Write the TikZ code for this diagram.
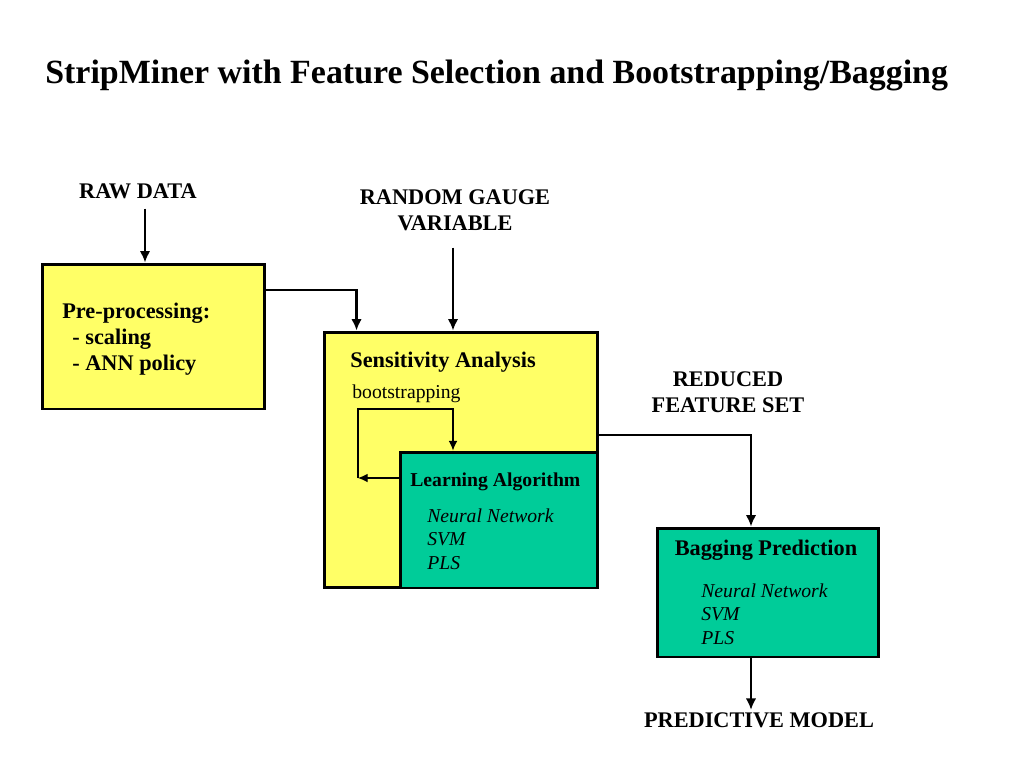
\documentclass[tikz,border=0pt]{standalone}
\usepackage{fontspec}
\setmainfont{Liberation Serif}
\usetikzlibrary{calc,arrows.meta}
\definecolor{boxyellow}{RGB}{255,255,102}
\definecolor{boxgreen}{RGB}{0,204,153}

\begin{document}
\begin{tikzpicture}[x=0.02cm,y=-0.02cm,
  box/.style={draw,line width=1.7pt,inner sep=0pt},
  lbl/.style={inner sep=0pt,font=\fontsize{12.7}{15.2}\selectfont\bfseries,align=center},
  arr/.style={line width=1.5pt,-{Latex[length=6.5pt,width=6pt]}},
  thinarr/.style={line width=0.7pt,-{Latex[length=5.5pt,width=5pt]}}]
\useasboundingbox (0,0) rectangle (1024,768);

\node[inner sep=0pt,anchor=base west,font=\fontsize{19.3}{23}\selectfont\bfseries] (title) at (45,83)
  {StripMiner with Feature Selection and Bootstrapping/Bagging};

% boxes
\node[box,fill=boxyellow,minimum width=4.46cm,minimum height=2.9cm] (pre) at (153.5,336.5) {};
\node[box,fill=boxyellow,minimum width=5.48cm,minimum height=5.12cm] (sens) at (461,460) {};
\node[box,fill=boxgreen,minimum width=3.96cm,minimum height=2.72cm] (learn) at (499,520) {};
\node[box,fill=boxgreen,minimum width=4.44cm,minimum height=2.58cm] (bag) at (768,592.5) {};

% texts in the boxes
\node[lbl,anchor=north west,align=left,font=\fontsize{12.7}{14.7}\selectfont\bfseries] (pretxt) at (62,303)
  {Pre-processing:\\ \hspace*{0.45em}- scaling\\ \hspace*{0.45em}- ANN policy};
\node[lbl,anchor=base west] (senstxt) at (350,367) {Sensitivity Analysis};
\node[inner sep=0pt,anchor=base west,font=\fontsize{11.2}{13}\selectfont] (boot) at (352,398) {bootstrapping};
\node[lbl,anchor=base west,font=\fontsize{11.2}{13}\selectfont\bfseries] (learntxt) at (410,486) {Learning Algorithm};
\node[inner sep=0pt,anchor=north west,align=left,font=\fontsize{11.2}{13.6}\selectfont\itshape] (learnlist) at (427,508)
  {Neural Network\\ SVM\\ PLS};
\node[lbl,anchor=base] (bagtxt) at (766,555) {Bagging Prediction};
\node[inner sep=0pt,anchor=north west,align=left,font=\fontsize{11.2}{13.6}\selectfont\itshape] (baglist) at (701,583)
  {Neural Network\\ SVM\\ PLS};

% outside labels
\node[lbl,anchor=base] (raw) at (138,198) {RAW DATA};
\node[lbl,anchor=north] (gauge) at (455,189) {RANDOM GAUGE\\ VARIABLE};
\node[lbl,anchor=north] (reduced) at (728,371) {REDUCED\\ FEATURE SET};
\node[lbl,anchor=base] (pred) at (759,727) {PREDICTIVE MODEL};

% connectors
\draw[arr] (raw.south -| 145,0) ++(0,10) -- (pre.north -| 145,0);
\draw[arr] (pre.east |- 0,290) -| ($(sens.north west)+(34,0)$);
\draw[arr] (gauge.south -| 453,0) ++(0,16) -- (sens.north -| 453,0);
\draw[arr] (sens.east |- 0,435) -| ($(bag.north)+(-17,0)$);
\draw[arr] (bag.south -| 751,0) -- ($(pred.north -| 751,0)+(0,-2)$);

% bootstrapping loop
\coordinate (lp) at (358,478);
\draw[thinarr] (learn.west |- lp) -- (lp);
\draw[thinarr] (lp) |- (453,409) -- (learn.north -| 453,0);

\end{tikzpicture}
\end{document}
